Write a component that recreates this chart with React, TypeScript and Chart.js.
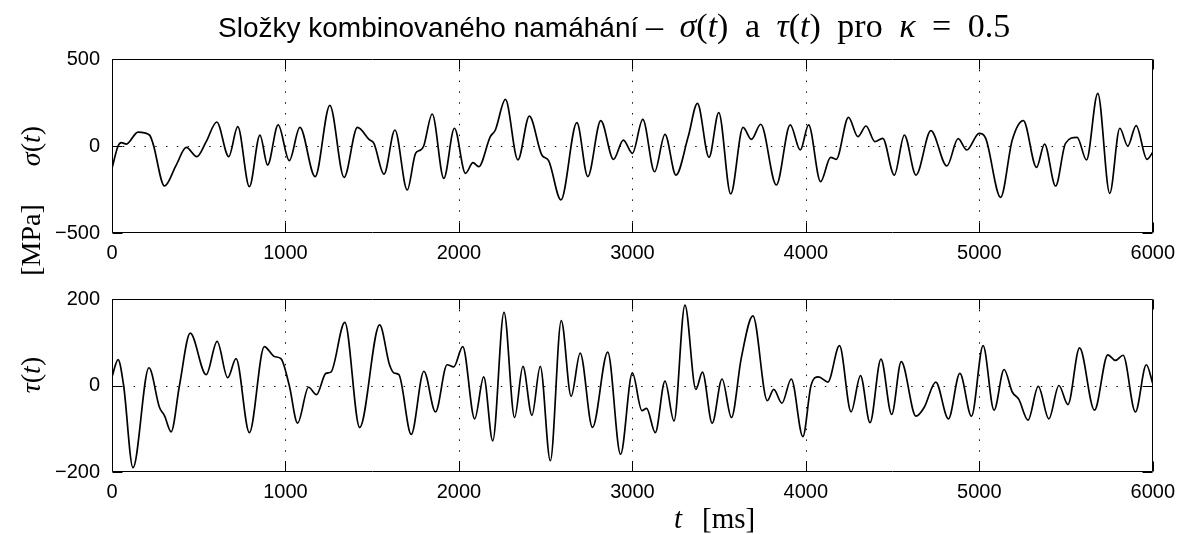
import React, { useEffect, useRef } from 'react';
import { Chart, registerables } from 'chart.js';

Chart.register(...registerables);

// ---------- data ----------
const X_TICKS = [0, 1000, 2000, 3000, 4000, 5000, 6000];
const SIGMA_TICKS = [-500, 0, 500];
const TAU_TICKS = [-200, 0, 200];

const SIGMA_T = [
  0, 35, 54, 83, 150, 216, 236, 303, 370, 428, 489, 543, 604, 673, 725, 792, 853, 897, 958, 1022,
  1083, 1171, 1256, 1338, 1415, 1482, 1510, 1568, 1631, 1702, 1750, 1779, 1797, 1846, 1913, 1974,
  2038, 2081, 2114, 2181, 2210, 2268, 2340, 2406, 2478, 2517, 2588, 2680, 2743, 2818, 2891, 2948,
  3000, 3060, 3128, 3188, 3251, 3322, 3375, 3442, 3498, 3567, 3638, 3686, 3740, 3830, 3910, 3968,
  4016, 4085, 4143, 4175, 4246, 4300, 4347, 4398, 4443, 4510, 4568, 4635, 4721, 4813, 4878, 4928,
  4999, 5037, 5123, 5190, 5254, 5330, 5376, 5440, 5497, 5564, 5618, 5683, 5752, 5810, 5856, 5904,
  5967, 6000,
];
const SIGMA_V = [
  -128, 0, 19, 11, 80, 63, 15, -230, -110, -8, -61, 25, 138, -61, 111, -234, 63, -109, 121, -84,
  107, -176, 234, -180, 107, 38, 15, -162, 92, -253, -42, -23, 0, 184, -186, 102,
  -157, -96, -119, 54, 92, 268, -80, 172, -52, -84, -310, 134, -176, 146, -77, 34,
  -42, 153, -148, 67, -167, 54, 245, -65, 192, -276, 107, 38, 125, -224, 121, -23,
  121, -205, -65, -77, 165, 54, 115, 25, 44, -167, 63, -167, 88, -115, 42, -23,
  73, 44, -295, 34, 146, -123, 11, -230, 15, 50, -80, 303, -272, 102, 0, 117,
  -77, -36,
];

const TAU_T = [
  0, 35, 67, 121, 213, 274, 303, 341, 389, 451, 543, 606, 667, 715, 792, 878, 936, 974, 1022, 1070,
  1133, 1179, 1233, 1262, 1342, 1428, 1543, 1600, 1626, 1654, 1725, 1798, 1865, 1932, 1970, 2022,
  2091, 2143, 2195, 2260, 2321, 2369, 2421, 2469, 2527, 2590, 2647, 2699, 2770, 2858, 2932, 3000,
  3055, 3082, 3132, 3188, 3240, 3303, 3366, 3404, 3460, 3517, 3571, 3628, 3695, 3778, 3815, 3862,
  3916, 3983, 4030, 4073, 4127, 4194, 4261, 4315, 4370, 4433, 4495, 4550, 4635, 4682, 4749, 4822,
  4888, 4955, 5022, 5085, 5143, 5190, 5228, 5281, 5340, 5401, 5459, 5511, 5578, 5664, 5741, 5785,
  5829, 5900, 5963, 6000,
];
const TAU_V = [
  20, 60, 0, -190, 41, -51, -70, -107, 0, 121, 25, 102, 18, 62, -109, 90, 67, 62, 0, -87,
  -4, -21, 28, 31, 146, -97, 140, 48, 29, 25, -113, 33, -61, 48, 43, 90,
  -77, 20, -128, 169, -74, 44, -69, 44, -174, 150, -25, 75, -97, 77, -159, 29,
  -58, -53, -109, 10, -82, 186, -9, 31, -87, 15, -74, 64, 161, -35, -9, -41,
  15, -118, 0, 20, 8, 92, -61, 23, -86, 61, -67, 55, -71, -51, 8, -77,
  28, -71, 92, -57, 37, -15, -32, -80, -2, -77, 0, -44, 87, -57, 71, 58,
  70, -61, 48, 5,
];

// ---------- layout ----------
const W = 1183;
const TICK_FONT = { family: '"Liberation Sans", Arial, Helvetica, sans-serif', size: 20 };
const SERIF = '"Liberation Serif", "Times New Roman", serif';
const SANS = '"Liberation Sans", Arial, Helvetica, sans-serif';
const TICK_LEN = 10;

const fmt = (v: number) => (v < 0 ? '\u2212' + Math.abs(v) : String(v));

const matlabFrame = {
  id: 'matlabFrame',
  beforeDatasetsDraw(chart: any) {
    const { ctx, chartArea: a, scales } = chart;
    const xs = scales.x;
    const ys = scales.y;
    ctx.save();
    ctx.strokeStyle = '#111';
    ctx.lineWidth = 1;
    ctx.setLineDash([1.5, 9.3]);
    xs.ticks.forEach((t: any) => {
      if (t.value <= xs.min || t.value >= xs.max) return;
      const px = Math.round(xs.getPixelForValue(t.value)) + 0.5;
      ctx.beginPath();
      ctx.moveTo(px, a.top);
      ctx.lineTo(px, a.bottom);
      ctx.stroke();
    });
    ys.ticks.forEach((t: any) => {
      if (t.value <= ys.min || t.value >= ys.max) return;
      const py = Math.round(ys.getPixelForValue(t.value)) + 0.5;
      ctx.beginPath();
      ctx.moveTo(a.left, py);
      ctx.lineTo(a.right, py);
      ctx.stroke();
    });
    ctx.restore();
  },
  afterDatasetsDraw(chart: any) {
    const { ctx, chartArea: a, scales } = chart;
    const xs = scales.x;
    const ys = scales.y;
    const l = Math.round(a.left) + 0.5;
    const r = Math.round(a.right) - 0.5;
    const t = Math.round(a.top) + 0.5;
    const b = Math.round(a.bottom) - 0.5;
    ctx.save();
    ctx.strokeStyle = '#000';
    ctx.lineWidth = 1;
    ctx.setLineDash([]);
    ctx.beginPath();
    ctx.rect(l, t, r - l, b - t);
    xs.ticks.forEach((tk: any) => {
      const px = Math.round(xs.getPixelForValue(tk.value)) + 0.5;
      ctx.moveTo(px, b);
      ctx.lineTo(px, b - TICK_LEN);
      ctx.moveTo(px, t);
      ctx.lineTo(px, t + TICK_LEN);
    });
    ys.ticks.forEach((tk: any) => {
      const py = Math.round(ys.getPixelForValue(tk.value)) + 0.5;
      ctx.moveTo(l, py);
      ctx.lineTo(l + TICK_LEN, py);
      ctx.moveTo(r, py);
      ctx.lineTo(r - TICK_LEN, py);
    });
    ctx.stroke();
    ctx.restore();
  },
};

function makeConfig(
  ts: number[],
  vs: number[],
  yTicks: number[],
  padTop: number,
  xAxisHeight: number
): any {
  const points = ts.map((t, i) => ({ x: t, y: vs[i] }));
  return {
    type: 'line',
    data: {
      datasets: [
        {
          data: points,
          borderColor: '#000',
          borderWidth: 1.7,
          pointRadius: 0,
          cubicInterpolationMode: 'monotone',
          fill: false,
        },
      ],
    },
    plugins: [matlabFrame],
    options: {
      animation: false,
      responsive: false,
      maintainAspectRatio: false,
      devicePixelRatio: 1,
      layout: { padding: { left: 0, right: 27, top: padTop, bottom: 0 } },
      plugins: {
        legend: { display: false },
        tooltip: { enabled: false },
        title: { display: false },
      },
      scales: {
        x: {
          type: 'linear',
          min: X_TICKS[0],
          max: X_TICKS[X_TICKS.length - 1],
          afterBuildTicks: (s: any) => {
            s.ticks = X_TICKS.map((v) => ({ value: v }));
          },
          afterFit: (s: any) => {
            s.height = xAxisHeight;
          },
          grid: { display: false, drawTicks: false },
          border: { display: false },
          ticks: {
            font: TICK_FONT,
            color: '#000',
            padding: 8,
            maxRotation: 0,
            autoSkip: false,
            callback: (v: any) => fmt(Number(v)),
          },
        },
        y: {
          type: 'linear',
          min: yTicks[0],
          max: yTicks[yTicks.length - 1],
          afterBuildTicks: (s: any) => {
            s.ticks = yTicks.map((v) => ({ value: v }));
          },
          afterFit: (s: any) => {
            s.width = 112;
          },
          grid: { display: false, drawTicks: false },
          border: { display: false },
          ticks: {
            font: TICK_FONT,
            color: '#000',
            padding: 12,
            autoSkip: false,
            callback: (v: any) => fmt(Number(v)),
          },
        },
      },
    },
  };
}

const rotLabel = (cx: number, cy: number): React.CSSProperties => ({
  position: 'absolute',
  left: cx,
  top: cy,
  transform: 'translate(-50%, -50%) rotate(-90deg)',
  fontFamily: SERIF,
  fontSize: 28,
  lineHeight: '30px',
  whiteSpace: 'nowrap',
  color: '#000',
});

export default function App() {
  const topRef = useRef<HTMLCanvasElement>(null);
  const botRef = useRef<HTMLCanvasElement>(null);

  useEffect(() => {
    const c1 = new Chart(topRef.current as HTMLCanvasElement, makeConfig(SIGMA_T, SIGMA_V, SIGMA_TICKS, 59, 42));
    const c2 = new Chart(botRef.current as HTMLCanvasElement, makeConfig(TAU_T, TAU_V, TAU_TICKS, 23, 62));
    return () => {
      c1.destroy();
      c2.destroy();
    };
  }, []);

  return (
    <div
      style={{
        position: 'fixed',
        left: 0,
        top: 0,
        width: W,
        height: 534,
        background: '#fff',
        overflow: 'hidden',
      }}
    >
      <canvas ref={topRef} width={W} height={275} style={{ position: 'absolute', left: 0, top: 0 }} />
      <canvas ref={botRef} width={W} height={259} style={{ position: 'absolute', left: 0, top: 275 }} />

      <div
        style={{
          position: 'absolute',
          left: 218,
          top: 6,
          whiteSpace: 'nowrap',
          fontFamily: SANS,
          fontSize: 28,
          lineHeight: '40px',
          color: '#000',
        }}
      >
        <span>Složky kombinovaného namáhání</span>{' '}
        <span style={{ fontFamily: SERIF, fontSize: 34, wordSpacing: 8 }}>
          – <i>σ</i>(<i>t</i>) a <i>τ</i>(<i>t</i>) pro <i>κ</i> = 0.5
        </span>
      </div>

      <div style={rotLabel(31, 146)}>
        <i>σ</i>(<i>t</i>)
      </div>
      <div style={rotLabel(31, 240)}>[MPa]</div>
      <div style={rotLabel(31, 375)}>
        <i>τ</i>(<i>t</i>)
      </div>

      <div
        style={{
          position: 'absolute',
          left: 674,
          top: 503,
          whiteSpace: 'nowrap',
          fontFamily: SERIF,
          fontSize: 29,
          lineHeight: '30px',
          color: '#000',
        }}
      >
        <i>t</i>
        <span style={{ marginLeft: 20 }}>[ms]</span>
      </div>
    </div>
  );
}
